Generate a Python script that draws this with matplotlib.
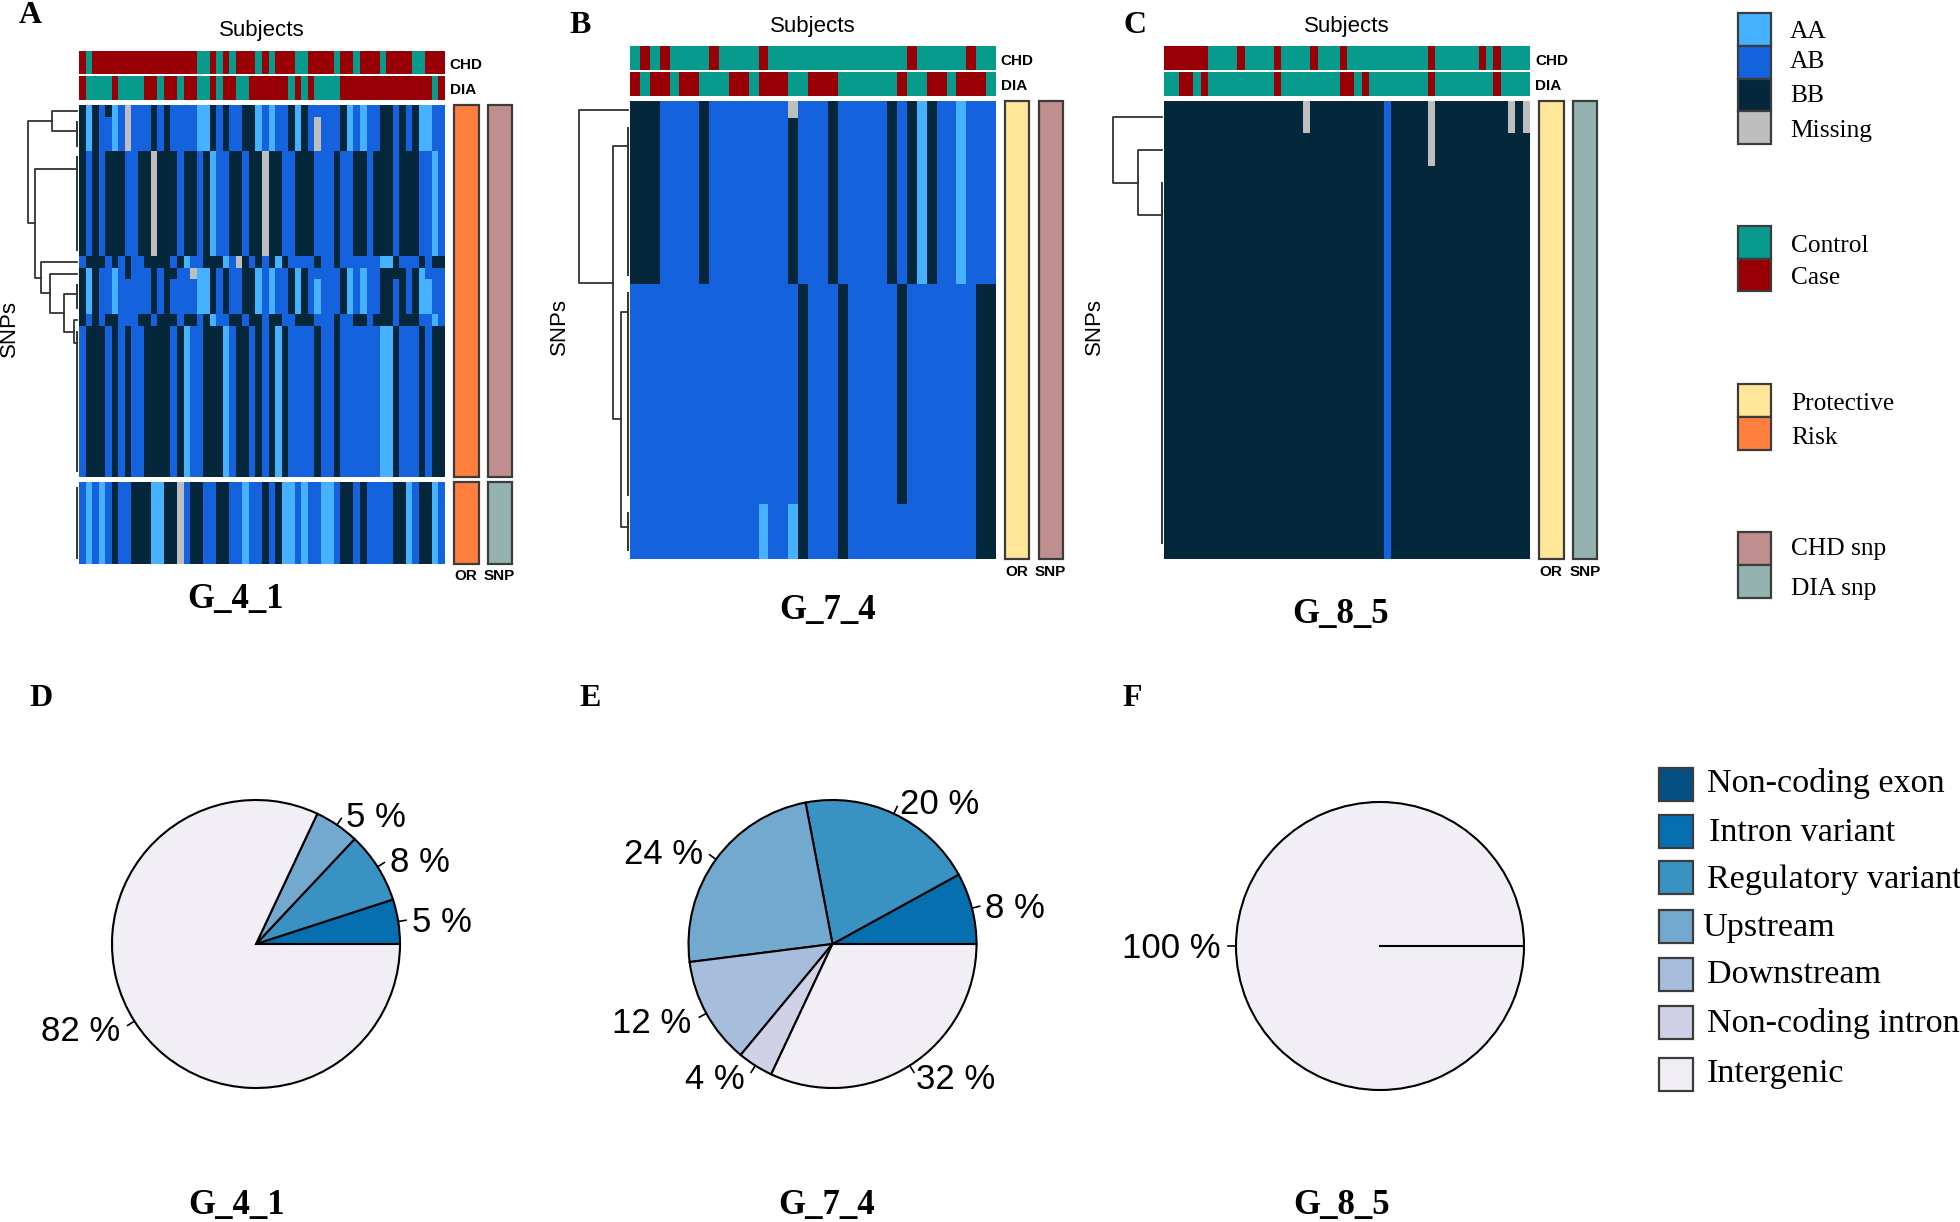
import numpy as np
import matplotlib
matplotlib.use('Agg')
import matplotlib.pyplot as plt
from matplotlib.colors import ListedColormap
from matplotlib.patches import Rectangle

W, H = 1960, 1222

# genotype rows, run-length coded: A=AA, B=AB, C=BB, M=missing
A_R0 = "C A C B C A B M B3 C B C B4 A2 C B C B2 C2 A B A B2 C A C B2 B3 C A B A B2 C2 B C B C A2 B2"
A_R1 = "C A C B2 A B M B3 C B C B4 A2 C B C B2 C2 A B A B2 C A C B M B3 C A B A B2 C2 B C B C A2 B2"
A_R4 = "C B C B C3 B2 C2 M C3 B C2 B C A B2 C2 B C2 M C2 B2 C3 B3 C B2 C2 B C3 B C3 B2 A B"
A_R13 = "B C3 B C B C B2 C4 B C A B2 C3 A B M C B C B C A C B4 C B2 C B6 A2 C B3 C B C2"
A_R14 = "C A C B2 A B C B3 C B C2 B2 M A2 C B C B2 C2 A B A B2 C A C B2 B3 C A B A B2 C4 B C A B3"
A_R15 = "C A C B2 A B5 C B C B4 A2 C B C B2 C2 A B A B2 C A C B A B3 C A B A B2 C2 B C B C A2 B2"
A_R18 = "C B C B C2 B3 C2 B C3 B C2 B C A B2 C2 B C2 B C2 B2 C3 B3 C B2 C2 B C3 B C3 B2 A B"
A_R19 = "B C3 B C B C B2 C4 B C A B2 C3 A B C2 B C B C A C B4 C B2 C B6 A2 C B3 C B C2"
A_LOW = "B A B A B C B2 C3 A2 C2 M B C2 B2 C2 B2 A B2 C B C A2 B A B2 A2 B C2 B C B4 C2 A B C2 A B"
A_ROWS = [(A_R0, 1), (A_R1, 3), (A_R4, 9), (A_R13, 1), (A_R14, 1), (A_R15, 3), (A_R18, 1), (A_R19, 13)]
A_LOW_ROWS = [(A_LOW, 7)]
A_CHD = "D N D16 N2 D N D N D3 N D N D3 N2 D4 N D2 N D3 N D4 N2 D3"
A_DIA = "D N4 D N4 D2 N D2 N D2 N2 D N D2 N2 D6 N D N D N4 D14 N D"

B_R0 = "C3 B4 C B8 M B3 C B5 C B C A C B2 A B3"
B_R1 = "C3 B4 C B8 C B3 C B5 C B C A C B2 A B3"
B_R10 = "B17 C B3 C B5 C B7 C2"
B_R22 = "B13 A B2 A C B3 C B13 C2"
B_ROWS = [(B_R0, 1), (B_R1, 9), (B_R10, 12), (B_R22, 3)]
B_CHD = "N D N D N4 D N4 D N14 D N5 D N2"
B_DIA = "D N D2 N D2 N3 D2 N D3 N2 D3 N6 D N2 D2 N D3 N"

C_R0 = "C19 M C10 B C5 M C10 M C M"
C_R1 = "C30 B C5 M C13"
C_R2 = "C30 B C19"
C_ROWS = [(C_R0, 1), (C_R1, 1), (C_R2, 12)]
C_CHD = "D6 N4 D N4 D N4 D N3 D N11 D N6 D N D N4"
C_DIA = "N2 D2 N D N9 D N8 D2 N D N8 D N8 D N4"

# dendrograms: (height, child, child), leaf = (first row, last row)
A_TREE = (49, (25, (0, 0), (1, 3)),
          (42, (4, 12), (36.3, (13, 13), (27.3, (14, 14), (13, (15, 17), (3, (18, 18), (19, 31)))))))
B_TREE = (49, (0, 0), (15, (1, 9), (7, (10, 21), (22, 24))))
C_TREE = (48.6, (0, 0), (24, (1, 1), (2, 13)))

GENO = ['#45B1FF', '#1562DE', '#04273C', '#BEBEBE']
GROUP = ['#069B8C', '#990006']
OR_COL = {'Protective': '#FFE699', 'Risk': '#FF7F3F'}
SNP_COL = {'CHD snp': '#BF8F8F', 'DIA snp': '#94B3B0'}

REGIONS = ['Non-coding exon', 'Intron variant', 'Regulatory variant', 'Upstream',
           'Downstream', 'Non-coding intron', 'Intergenic']
REGION_COL = ['#045082', '#056FB0', '#3A92C2', '#74A9CF', '#A6BDDB', '#D0D1E6', '#F1EEF6']

D_NAMES = ['Intron variant', 'Regulatory variant', 'Upstream', 'Intergenic']
D_VALS = [5, 8, 5, 82]
E_NAMES = ['Intron variant', 'Regulatory variant', 'Upstream', 'Downstream', 'Non-coding intron', 'Intergenic']
E_VALS = [8, 20, 24, 12, 4, 32]
F_NAMES = ['Intergenic']
F_VALS = [100]


def decode(s):
    out = []
    for tok in s.split():
        n = int(tok[1:]) if len(tok) > 1 else 1
        out += [tok[0]] * n
    return out


def matrix(rows, codes='ABCM'):
    m = []
    for s, n in rows:
        row = [codes.index(c) for c in decode(s)]
        m += [row] * n
    return np.array(m)


plt.rcParams['font.family'] = ['Liberation Sans', 'DejaVu Sans']
fig = plt.figure(figsize=(W / 100, H / 100), dpi=100, facecolor='white')


def px_axes(x0, y0, x1, y1):
    ax = fig.add_axes([x0 / W, 1 - y1 / H, (x1 - x0) / W, (y1 - y0) / H])
    ax.set_axis_off()
    return ax


over = fig.add_axes([0, 0, 1, 1], zorder=5)
over.set_xlim(0, W)
over.set_ylim(H, 0)
over.set_axis_off()


# text sits a little low of its matplotlib centre in the reference
def serif(x, y, s, size, **kw):
    over.text(x, y + 2.5, s, fontsize=size, family=['Liberation Serif'], ha=kw.pop('ha', 'center'), va='center', **kw)


def sans(x, y, s, size, **kw):
    over.text(x, y + 2.5, s, fontsize=size, ha=kw.pop('ha', 'center'), va='center', **kw)


def heat(box, rows, colors, codes='ABCM'):
    ax = px_axes(*box)
    ax.imshow(matrix(rows, codes), cmap=ListedColormap(colors), vmin=0, vmax=len(colors) - 1,
              aspect='auto', interpolation='nearest')
    return ax


def chain_y(a, b):
    y = float(b)
    for r in range(b - 1, a - 1, -1):
        y = (r + y) / 2
    return y


def draw_tree(ax, node):
    if len(node) == 2:
        a, b = node
        if b > a:
            ax.plot([0, 0], [a, b], color='#333333', lw=1.4, clip_on=False)
        return 0, chain_y(a, b)
    h, left, right = node
    h1, y1 = draw_tree(ax, left)
    h2, y2 = draw_tree(ax, right)
    ax.plot([h1, h, h, h2], [y1, y1, y2, y2], color='#333333', lw=1.3, clip_on=False)
    return h, (y1 + y2) / 2


def dendro(leaf_x, top, bottom, nrows, tree):
    ax = px_axes(leaf_x - 60, top, leaf_x, bottom)
    ax.set_xlim(60, 0)
    ax.set_ylim(nrows - 0.5, -0.5)
    draw_tree(ax, tree)
    return ax


def bar(x0, x1, y0, y1, color):
    over.add_patch(Rectangle((x0, y0), x1 - x0, y1 - y0, fc=color, ec='#3c3c3c', lw=1.6))


def panel(letter, lx, ly, x0, x1, y_chd, y_dia, rows, chd, dia, tree, leaf_x, or_x, snp_x, snp_col, or_col,
          top, bottom, nrows, subj_y, lab_y, title_xy):
    serif(lx, ly, letter, 23, fontweight='bold')
    sans((x0 + x1) / 2, subj_y - 1, 'Subjects', 16)
    heat((x0, y_chd[0], x1, y_chd[1]), [(chd, 1)], GROUP, 'ND')
    heat((x0, y_dia[0], x1, y_dia[1]), [(dia, 1)], GROUP, 'ND')
    sans(x1 + 5.5, (y_chd[0] + y_chd[1]) / 2, 'CHD', 11, ha='left', fontweight='bold')
    sans(x1 + 5.5, (y_dia[0] + y_dia[1]) / 2, 'DIA', 11, ha='left', fontweight='bold')
    heat((x0, top, x1, bottom), rows, GENO)
    dendro(leaf_x, top, bottom, nrows, tree)
    bar(or_x, or_x + 24.5, top, bottom, or_col)
    bar(snp_x, snp_x + 24.5, top, bottom, snp_col)
    sans(or_x + 12, lab_y - 1, 'OR', 11, fontweight='bold')
    sans(snp_x + 12, lab_y - 1, 'SNP', 11, fontweight='bold')
    serif(title_xy[0], title_xy[1], title_xy[2], 25, fontweight='bold')


panel('A', 30, 13, 78.9, 444.2, (50.5, 74), (76, 100), A_ROWS, A_CHD, A_DIA, A_TREE, 77.3,
      454, 487.7, SNP_COL['CHD snp'], OR_COL['Risk'], 105, 477, 32, 29, 575, (235, 597, 'G_4_1'))
heat((78.9, 482, 444.2, 564), A_LOW_ROWS, GENO)
low = dendro(77.3, 482, 564, 7, (0, 6))
bar(454, 478.5, 482, 564, OR_COL['Risk'])
bar(487.7, 512.2, 482, 564, SNP_COL['DIA snp'])

panel('B', 580.6, 23, 629.9, 995.2, (46.3, 70), (72, 96), B_ROWS, B_CHD, B_DIA, B_TREE, 628,
      1004.5, 1038.6, SNP_COL['CHD snp'], OR_COL['Protective'], 100.7, 559.3, 25, 25, 571, (827.5, 608, 'G_7_4'))
panel('C', 1135, 23, 1164.4, 1529.7, (46.3, 70), (72, 96), C_ROWS, C_CHD, C_DIA, C_TREE, 1162,
      1539, 1572.8, SNP_COL['DIA snp'], OR_COL['Protective'], 100.7, 559.3, 14, 25, 571, (1341, 612, 'G_8_5'))

sans(9, 326, 'SNPs', 16, rotation=90)
sans(559, 324, 'SNPs', 16, rotation=90)
sans(1094, 324, 'SNPs', 16, rotation=90)


def pie(cx, cy, names, vals):
    r = 144
    ax = px_axes(cx - r, cy - r, cx + r, cy + r)
    cols = [REGION_COL[REGIONS.index(n)] for n in names]
    wedges, _ = ax.pie(vals, colors=cols, startangle=0, counterclock=True,
                       wedgeprops={'edgecolor': 'black', 'linewidth': 1.5})
    for w in wedges:
        w.set_clip_on(False)
    ax.set_xlim(-1, 1)
    ax.set_ylim(-1, 1)
    start = 0
    for v in vals:
        mid = np.deg2rad((start + v / 2) * 3.6)
        ax.plot([np.cos(mid), 1.055 * np.cos(mid)], [np.sin(mid), 1.055 * np.sin(mid)],
                color='black', lw=1.2, clip_on=False)
        start += v
    return ax


pie(256, 944, D_NAMES, D_VALS)
pie(832.5, 944, E_NAMES, E_VALS)
ax_f = pie(1380, 946, F_NAMES, F_VALS)
ax_f.plot([0, 1], [0, 0], color='black', lw=1.5)

D_LABELS = [('5 %', 376, 815), ('8 %', 420, 860), ('5 %', 442, 920), ('82 %', 81, 1029)]
E_LABELS = [('8 %', 1015, 906), ('20 %', 940, 802), ('24 %', 664, 852), ('12 %', 652, 1021),
            ('4 %', 715, 1077), ('32 %', 956, 1077)]
F_LABELS = [('100 %', 1171, 946)]
for s, x, y in D_LABELS + E_LABELS + F_LABELS:
    sans(x, y, s, 25)

serif(41, 696, 'D', 23, fontweight='bold')
serif(590, 696, 'E', 23, fontweight='bold')
serif(1132, 696, 'F', 23, fontweight='bold')
serif(236, 1203, 'G_4_1', 25, fontweight='bold')
serif(827, 1203, 'G_7_4', 25, fontweight='bold')
serif(1342, 1203, 'G_8_5', 25, fontweight='bold')


def legend_stack(x0, x1, edges, colors):
    for i, c in enumerate(colors):
        bar(x0, x1, edges[i], edges[i + 1], c)


legend_stack(1737.5, 1771, [12.5, 46, 79, 111, 144], GENO)
legend_stack(1737.5, 1771, [226, 259, 291], GROUP)
legend_stack(1737.5, 1771, [384, 417, 450], list(OR_COL.values()))
legend_stack(1737.5, 1771, [532, 565, 598], list(SNP_COL.values()))

for s, y in [('AA', 29), ('AB', 60), ('BB', 94), ('Missing', 129)]:
    serif(1790, y, s, 18.3, ha='left')
for s, y in [('Control', 243), ('Case', 275), ('Protective', 402), ('Risk', 436), ('CHD snp', 547), ('DIA snp', 586)]:
    serif(1791, y, s, 18.3, ha='left')

region_tops = [767.5, 815, 861, 910, 957.5, 1006, 1057.5]
region_y = [781, 830, 877.5, 925, 972.5, 1021, 1071]
region_x = [1707, 1709, 1707, 1702, 1707, 1707, 1707]
for name, col, top, y, x in zip(REGIONS, REGION_COL, region_tops, region_y, region_x):
    bar(1659, 1692.5, top, top + 33, col)
    serif(x, y, name, 24.6, ha='left')

fig.savefig('out.png', dpi=100)
